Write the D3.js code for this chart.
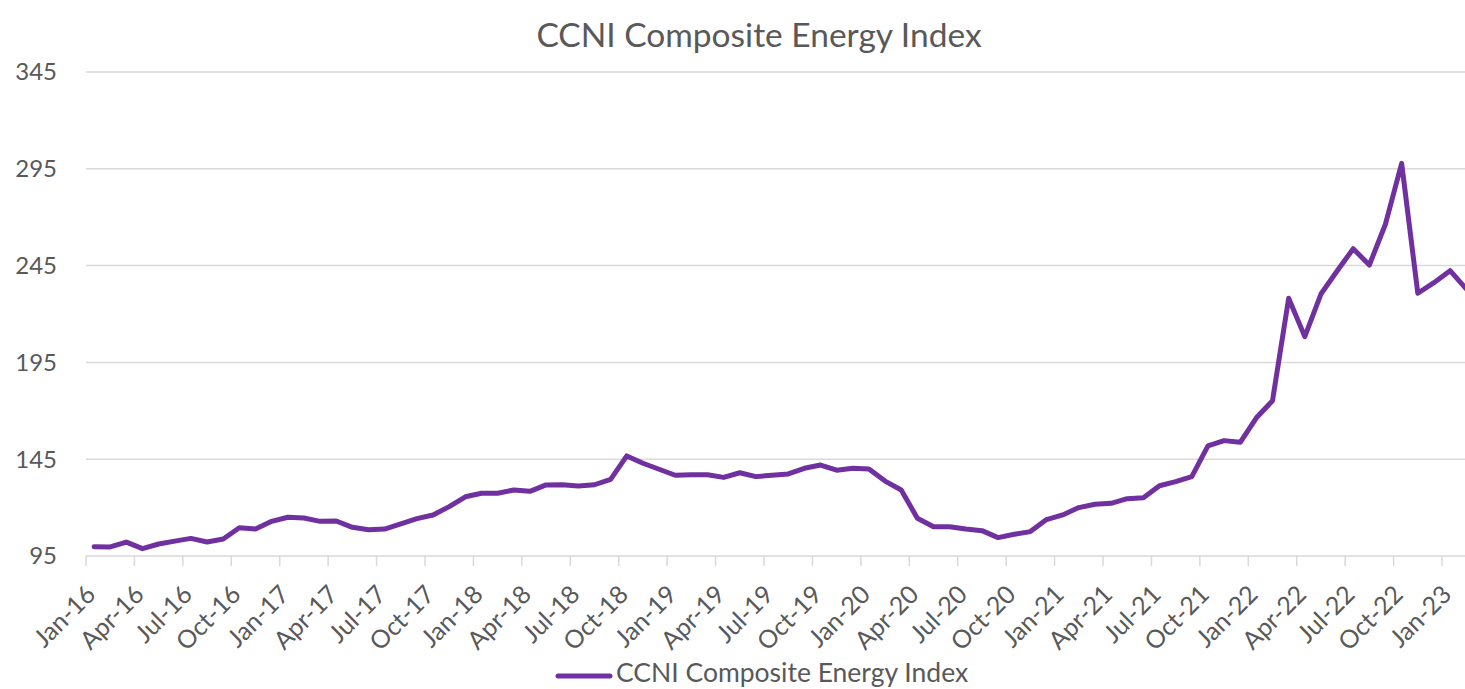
<!DOCTYPE html>
<html>
<head>
<meta charset="utf-8">
<script src="https://cdn.jsdelivr.net/npm/d3@7"></script>
<style>
  body { margin: 0; background: #fff; }
  text { font-family: Lato, "Open Sans", sans-serif; fill: #595959; }
</style>
</head>
<body>
<div id="chart"></div>
<script>
// monthly index values, Jan-16 .. Feb-23
var monthNames = ['Jan','Feb','Mar','Apr','May','Jun','Jul','Aug','Sep','Oct','Nov','Dec'];
var years = [16, 17, 18, 19, 20, 21, 22, 23];
var seriesName = 'CCNI Composite Energy Index';
var values = [
  99.8, 99.7, 102.2, 98.8, 101.2, 102.7, 104.1, 102.2, 103.8, 109.6, 108.9, 112.9,
  115.0, 114.6, 112.9, 113.1, 109.8, 108.6, 108.9, 111.6, 114.3, 116.2, 120.5, 125.6,
  127.4, 127.4, 129.1, 128.4, 131.7, 131.8, 131.2, 131.8, 134.6, 146.7, 142.9, 139.8,
  136.7, 137.0, 137.0, 135.6, 138.0, 136.0, 136.7, 137.4, 140.3, 142.0, 139.3, 140.3,
  139.9, 133.7, 129.1, 114.5, 110.1, 110.1, 108.9, 108.1, 104.5, 106.2, 107.6, 113.8,
  116.2, 120.0, 121.7, 122.2, 124.6, 125.1, 131.3, 133.4, 136.0, 151.9, 154.6, 153.7,
  166.4, 175.2, 228.1, 208.3, 230.3, 242.2, 253.7, 245.3, 266.5, 297.8, 230.7, 236.2,
  242.4, 233.0
];
var yTicks = [95, 145, 195, 245, 295, 345];

var months = [];
years.forEach(function(y) {
  monthNames.forEach(function(m) { months.push(m + '-' + y); });
});
months = months.slice(0, values.length);
var data = months.map(function(m, i) { return { month: m, value: values[i] }; });

var config = {
  width: 1465,
  height: 689,
  margin: { left: 86, top: 72 },
  step: 16.143,
  plotHeight: 484
};

var svg = d3.select('#chart').append('svg')
    .attr('width', config.width)
    .attr('height', config.height);

var x = d3.scaleBand()
    .domain(months)
    .range([config.margin.left, config.margin.left + config.step * months.length])
    .padding(0);

var y = d3.scaleLinear()
    .domain([95, 345])
    .range([config.margin.top + config.plotHeight, config.margin.top]);

// title
svg.append('text')
    .attr('x', 759)
    .attr('y', 47)
    .attr('text-anchor', 'middle')
    .style('font-size', '33.5px')
    .text(seriesName);

// gridlines
svg.append('g').selectAll('line').data(yTicks.slice(1)).enter()
  .append('line')
    .attr('x1', config.margin.left)
    .attr('x2', x.range()[1])
    .attr('y1', function(d) { return y(d); })
    .attr('y2', function(d) { return y(d); })
    .attr('stroke', '#d9d9d9')
    .attr('stroke-width', 1.5);

// y labels
svg.append('g').selectAll('text').data(yTicks).enter()
  .append('text')
    .attr('x', 57)
    .attr('y', function(d) { return y(d); })
    .attr('dy', '0.35em')
    .attr('text-anchor', 'end')
    .style('font-size', '24px')
    .text(function(d) { return d; });

// x axis line + ticks at month starts, every 3 months
var y0 = y(95);
svg.append('line')
    .attr('x1', config.margin.left)
    .attr('x2', x.range()[1])
    .attr('y1', y0).attr('y2', y0)
    .attr('stroke', '#d9d9d9')
    .attr('stroke-width', 1.5);

var tickMonths = months.filter(function(m, i) { return i % 3 === 0; });

svg.append('g').selectAll('line').data(tickMonths).enter()
  .append('line')
    .attr('x1', function(d) { return x(d); })
    .attr('x2', function(d) { return x(d); })
    .attr('y1', y0)
    .attr('y2', y0 + 10)
    .attr('stroke', '#d9d9d9')
    .attr('stroke-width', 1.5);

svg.append('g').selectAll('text').data(tickMonths).enter()
  .append('text')
    .attr('transform', function(d) {
      return 'translate(' + (x(d) + 11) + ',' + (y0 + 40) + ') rotate(-45)';
    })
    .attr('text-anchor', 'end')
    .style('font-size', '25px')
    .text(function(d) { return d; });

// series line
var line = d3.line()
    .x(function(d) { return x(d.month) + x.bandwidth() / 2; })
    .y(function(d) { return y(d.value); });

svg.append('path')
    .datum(data)
    .attr('d', line)
    .attr('fill', 'none')
    .attr('stroke', '#7030a0')
    .attr('stroke-width', 5)
    .attr('stroke-linejoin', 'round')
    .attr('stroke-linecap', 'round');

// legend
svg.append('line')
    .attr('x1', 558).attr('x2', 610)
    .attr('y1', 676).attr('y2', 676)
    .attr('stroke', '#7030a0')
    .attr('stroke-width', 5)
    .attr('stroke-linecap', 'round');

svg.append('text')
    .attr('x', 616)
    .attr('y', 682)
    .style('font-size', '26.5px')
    .text(seriesName);
</script>
</body>
</html>
